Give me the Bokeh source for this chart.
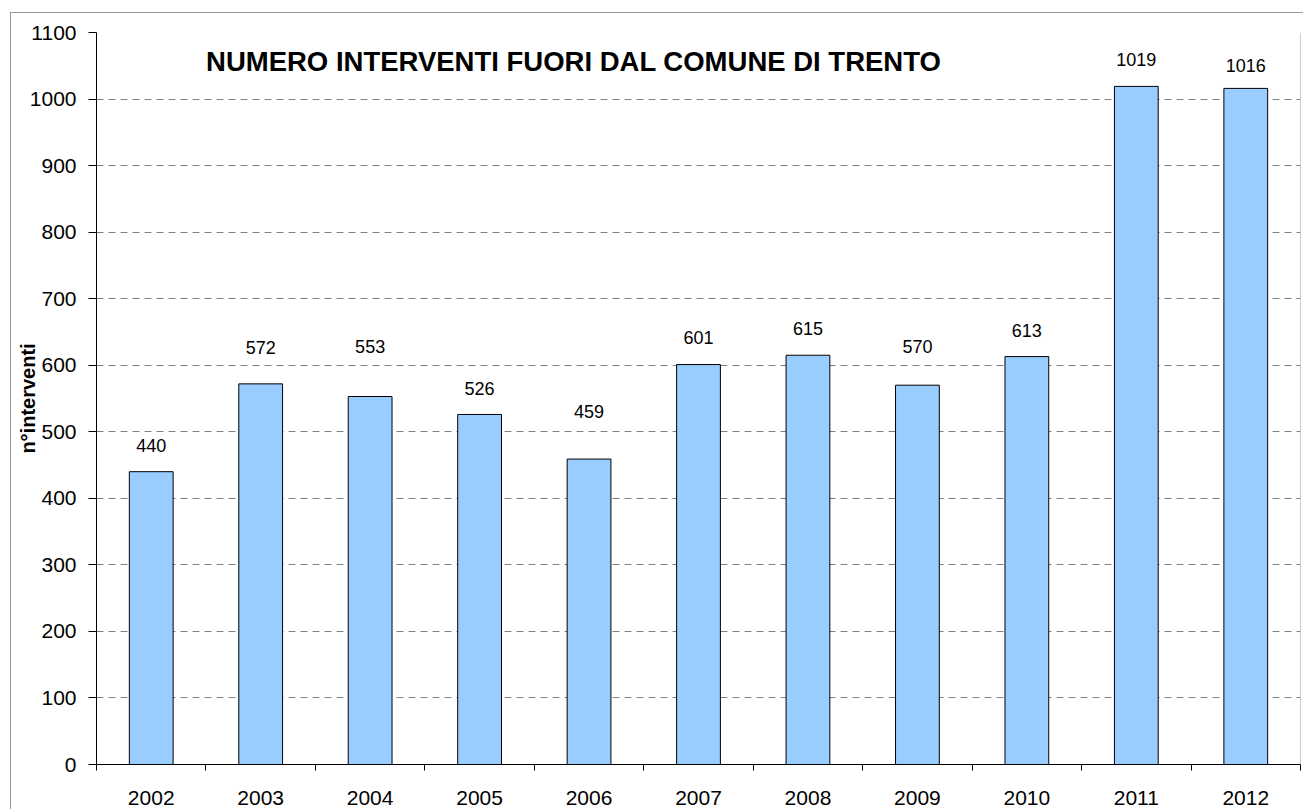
import math
from bokeh.plotting import figure
from bokeh.models import ColumnDataSource, FixedTicker, Span, Label
from bokeh.core.properties import value
from bokeh.embed import file_html
from bokeh.resources import INLINE

years = ["2002", "2003", "2004", "2005", "2006", "2007", "2008", "2009", "2010", "2011", "2012"]
interventi = [440, 572, 553, 526, 459, 601, 615, 570, 613, 1019, 1016]
# heights (in data units) at which the value labels sit in the picture
label_y = [479, 627, 628, 565, 531, 642, 655, 628, 652, 1059, 1050]
y_ticks = [0, 100, 200, 300, 400, 500, 600, 700, 800, 900, 1000, 1100]
title_text = "NUMERO INTERVENTI FUORI DAL COMUNE DI TRENTO"
y_label_text = "n°interventi"

FONT = "Liberation Sans"

xs = list(range(len(years)))
src = ColumnDataSource(dict(x=xs, top=interventi, ly=label_y,
                            txt=[str(v) for v in interventi]))

p = figure(width=1293, height=797, x_range=(-0.5, len(years) - 0.5), y_range=(0, 1100),
           output_backend="svg", toolbar_location=None,
           min_border_left=85, min_border_right=4, min_border_top=19, min_border_bottom=46)
p.margin = (12, 0, 0, 10)
p.styles = {"border-top": "1px solid #999999", "border-left": "1px solid #999999"}
p.outline_line_color = None
p.background_fill_color = "white"
p.border_fill_color = "white"

p.vbar(x="x", top="top", width=0.4, bottom=0, source=src,
       fill_color="#99CCFF", line_color="black", line_width=1)

p.text(x="x", y="ly", text="txt", source=src, text_align="center", text_baseline="middle",
       text_font=value(FONT), text_font_size="18px", text_color="black")

# x axis: labels at category centers, tick marks between categories
xa = p.xaxis[0]
xa.ticker = FixedTicker(ticks=xs, minor_ticks=[i - 0.5 for i in range(len(years) + 1)])
xa.major_label_overrides = {i: y for i, y in enumerate(years)}
xa.major_tick_out = 0
xa.major_tick_in = 0
xa.minor_tick_out = 6
xa.minor_tick_in = 0
xa.minor_tick_line_color = "black"
xa.axis_line_color = "black"
xa.major_label_text_font = FONT
xa.major_label_text_font_size = "21px"
xa.major_label_text_color = "black"
xa.major_label_standoff = 20

ya = p.yaxis[0]
ya.ticker = FixedTicker(ticks=y_ticks)
ya.major_tick_out = 8
ya.major_tick_in = 0
ya.minor_tick_out = 0
ya.minor_tick_in = 0
ya.axis_line_color = "black"
ya.major_tick_line_color = "black"
ya.major_label_text_font = FONT
ya.major_label_text_font_size = "21px"
ya.major_label_text_color = "black"
ya.major_label_standoff = 12
ya.axis_label = y_label_text
ya.axis_label_text_font = FONT
ya.axis_label_text_font_size = "20px"
ya.axis_label_text_font_style = "bold"
ya.axis_label_text_color = "black"
ya.axis_label_standoff = -12

p.xgrid.grid_line_color = None
p.ygrid.grid_line_color = "#808080"
p.ygrid.grid_line_dash = "7 5"
p.ygrid.grid_line_width = 1

p.add_layout(Span(location=len(years) - 0.5, dimension="height", line_color="#999999", line_width=1))

p.add_layout(Label(x=3.86, y=1056, text=title_text, text_font=FONT, text_font_size="27.5px",
                   text_font_style="bold", text_align="center", text_baseline="middle",
                   text_color="black"))

open("out.html", "w").write(file_html(p, INLINE))
